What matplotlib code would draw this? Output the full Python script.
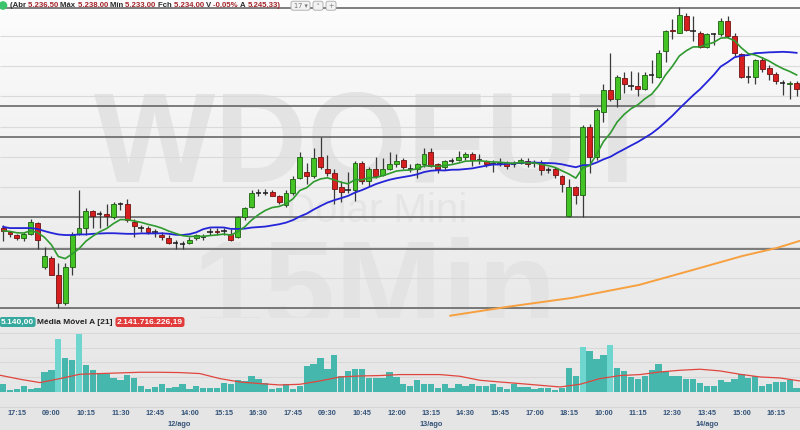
import matplotlib
matplotlib.use('Agg')
import matplotlib.pyplot as plt
import numpy as np
import pandas as pd
from matplotlib.patches import Rectangle, FancyBboxPatch, Circle
from matplotlib.colors import LinearSegmentedColormap
from matplotlib.transforms import blended_transform_factory

# ---------------- data ----------------
opens = [5186.5, 5185, 5184, 5183, 5184.5, 5188, 5173.5, 5176.5, 5171, 5161.5,
         5173.5, 5184.5, 5186.5, 5192, 5191, 5191, 5190, 5194.5, 5194.5, 5188.5,
         5186.5, 5186.5, 5185, 5184, 5183, 5181.5, 5181, 5181.5, 5183, 5183.5,
         5185, 5185.5, 5185.5, 5184.5, 5183.5, 5190, 5193.5, 5198, 5198, 5198.5,
         5197, 5194, 5198, 5203, 5205, 5203.5, 5210, 5206, 5204.5, 5200,
         5199, 5199, 5208, 5202, 5206, 5204, 5206, 5207.5, 5209, 5206,
         5206, 5207.5, 5211.5, 5207.5, 5206.5, 5208.5, 5209, 5210, 5211, 5209,
         5208.5, 5207.5, 5208, 5208, 5207.5, 5208, 5208.5, 5208, 5208, 5205.5,
         5206, 5203.5, 5190.5, 5200, 5197.5, 5220, 5210, 5225, 5232, 5229,
         5236, 5233.5, 5233.5, 5232.5, 5237, 5236.5, 5245, 5252, 5251, 5256.5,
         5251.5, 5251, 5246.5, 5250.5, 5250.5, 5255, 5250, 5244, 5236.5, 5236.5,
         5242, 5239.5, 5237.5, 5234.5, 5234, 5234.5]
highs = [5187.5, 5185.5, 5184.5, 5185, 5189.5, 5188.5, 5180, 5177, 5175, 5175,
         5185, 5199, 5193, 5192.5, 5192, 5194.5, 5195, 5195, 5196, 5189.5,
         5187.5, 5187, 5186, 5185, 5184, 5182.5, 5182, 5183.5, 5184.5, 5184.5,
         5186.5, 5186.5, 5186.5, 5186, 5190.5, 5193.5, 5199, 5199.5, 5199.5, 5199,
         5197.5, 5199, 5203.5, 5211.5, 5208, 5213, 5216.5, 5210.5, 5206, 5202,
         5205, 5208.5, 5208.5, 5206.5, 5210, 5209.5, 5211.5, 5211, 5209.5, 5207.5,
         5208, 5213, 5213, 5208, 5209, 5209.5, 5212, 5211.5, 5211.5, 5211,
         5209, 5209, 5209.5, 5208.5, 5208.5, 5209.5, 5209.5, 5209, 5209, 5206.5,
         5206.5, 5204, 5202.5, 5200.5, 5220.5, 5221, 5226, 5234, 5244.5, 5237,
         5238, 5238.5, 5238, 5238, 5242, 5245.5, 5252, 5255.5, 5259.5, 5257.5,
         5256.5, 5251.5, 5251, 5251, 5256, 5256.5, 5251, 5244.5, 5240, 5242.5,
         5243, 5240.5, 5238, 5235.5, 5235, 5235]
lows = [5182, 5183.5, 5182.5, 5182, 5184, 5179.5, 5173, 5171, 5160, 5161,
        5171, 5184, 5184, 5186.5, 5186.5, 5187, 5189.5, 5192.5, 5188.5, 5183.5,
        5185, 5184.5, 5183.5, 5182.5, 5181, 5179.5, 5179.5, 5181, 5182.5, 5182.5,
        5184, 5184, 5184, 5182, 5183, 5189, 5193, 5197, 5197.5, 5197,
        5194.5, 5193.5, 5197.5, 5202.5, 5201, 5203, 5206, 5203.5, 5194.5, 5195,
        5198, 5195.5, 5201, 5200.5, 5203, 5203.5, 5205.5, 5206.5, 5206, 5205,
        5203, 5206.5, 5206.5, 5204.5, 5205.5, 5208, 5208.5, 5209, 5207, 5207.5,
        5206.5, 5205, 5207, 5206, 5206.5, 5207.5, 5206.5, 5206.5, 5204, 5204.5,
        5203, 5198.5, 5190, 5194.5, 5190, 5204.5, 5209, 5221.5, 5228.5, 5226.5,
        5231, 5232, 5230, 5232, 5234.5, 5236, 5241.5, 5249, 5251, 5251.5,
        5248.5, 5246, 5246, 5247, 5250, 5249.5, 5243.5, 5236, 5234.5, 5234,
        5238, 5235.5, 5234, 5230.5, 5229, 5230]
closes = [5185.5, 5184.5, 5183, 5184.5, 5188.5, 5182.5, 5177, 5171, 5161.5, 5173.5,
          5184, 5186.5, 5192, 5190.5, 5191, 5190.5, 5194.5, 5194.5, 5189, 5187,
          5186.5, 5185, 5185, 5183.5, 5181.5, 5181.5, 5181, 5182.5, 5184, 5183.5,
          5185, 5185, 5185.5, 5182.5, 5190, 5193, 5198, 5198, 5198, 5197,
          5195, 5198, 5202.5, 5210, 5203.5, 5209.5, 5206.5, 5204.5, 5199.5, 5198.5,
          5199, 5208, 5202, 5206, 5203.5, 5206, 5207.5, 5208.5, 5206.5, 5206,
          5207.5, 5211, 5207, 5206, 5208.5, 5208.5, 5210, 5211, 5209, 5209,
          5207.5, 5207.5, 5208, 5207, 5207.5, 5209, 5207.5, 5208, 5205.5, 5205.5,
          5204, 5201, 5200, 5197.5, 5220, 5210, 5225.5, 5232, 5229, 5236.5,
          5234, 5233.5, 5232.5, 5237, 5237, 5244.5, 5251.5, 5251.5, 5257, 5252,
          5251.5, 5246.5, 5250.5, 5250.5, 5255, 5250, 5244.5, 5236.5, 5236.5, 5242,
          5239, 5237.5, 5235, 5234.5, 5234.5, 5232.5]
# 21-period average before enough candles are on screen
ma21_head = [5186.8, 5186.4, 5186.4, 5186.4, 5186.4, 5186.1, 5185.4, 5184.8, 5184.3, 5184.1,
             5184.1, 5184.3, 5184.3, 5184.5, 5184.6, 5184.7, 5184.7, 5184.6, 5184.5, 5184.5]
volumes = [1.63, 0.46, 0.65, 1.17, 0.53, 0.85, 3.84, 4.36, 10.41, 6.70,
           6.18, 11.38, 5.20, 4.23, 3.58, 3.45, 2.74, 2.28, 3.26, 2.80,
           1.11, 0.65, 0.98, 1.50, 0.85, 0.98, 1.63, 0.65, 1.17, 0.85,
           0.85, 0.85, 1.76, 1.50, 2.41, 2.15, 3.13, 2.61, 1.76, 0.65,
           0.85, 1.50, 0.53, 1.11, 5.01, 5.40, 6.64, 4.43, 7.22, 3.06,
           4.10, 4.56, 4.43, 2.74, 2.74, 2.80, 3.91, 2.93, 1.50, 1.11,
           2.28, 1.63, 1.63, 0.79, 1.50, 0.85, 1.50, 1.17, 1.63, 1.11,
           1.11, 1.63, 0.98, 0.59, 1.50, 0.98, 0.98, 0.59, 0.85, 0.85,
           0.46, 0.79, 4.69, 3.13, 8.78, 8.00, 6.38, 7.22, 9.17, 4.69,
           4.04, 2.93, 2.48, 3.06, 4.30, 5.53, 4.10, 3.13, 3.06, 2.61,
           2.61, 1.76, 1.24, 1.11, 2.41, 1.89, 2.61, 3.58, 2.74, 3.06,
           1.17, 1.63, 1.89, 1.89, 2.28, 0.85]
highlight_bars = [8, 11, 84, 88]

vol_ma_idx = [-0.45, 2.45, 5.35, 8.25, 11.1, 14.0, 16.9, 19.8, 22.7, 25.6, 28.5,
              31.4, 34.3, 37.2, 40.1, 43.0, 45.9, 48.8, 51.7, 54.6, 57.5, 60.4,
              63.3, 66.2, 69.1, 72.0, 74.9, 77.8, 80.7, 83.6, 86.5, 89.4, 92.3,
              95.2, 98.1, 101.0, 103.9, 106.8, 109.7, 112.6, 115.5]
vol_ma_val = [3.26, 2.48, 1.83, 2.61, 3.45, 3.59, 3.71, 3.84, 3.84, 3.78, 3.59,
              2.61, 1.95, 1.64, 1.37, 1.50, 2.15, 2.93, 3.12, 3.20, 3.39, 3.39,
              3.39, 3.06, 2.28, 1.95, 1.64, 1.31, 0.98, 1.50, 2.61, 3.20, 3.39,
              3.90, 4.23, 4.43, 4.10, 3.45, 2.93, 2.73, 2.15]

orange_idx = [64.8, 73.3, 82.5, 92.2, 99.9, 107.2, 112.1, 115.5]
orange_val = [5157.4, 5160.4, 5163.3, 5167.6, 5172.5, 5177.2, 5179.8, 5182.2]

grid_levels = [5160, 5170, 5180, 5190, 5200, 5210, 5220, 5230, 5240, 5250]
level_lines = [5259.3, 5226.8, 5216.6, 5190.2, 5179.6, 5160.0]

tick_pos = [2, 7, 12, 17, 22, 27, 32, 37, 42, 47, 52, 57, 62, 67, 72, 77, 82,
            87, 92, 97, 102, 107, 112]
tick_labels = ['17:15', '09:00', '10:15', '11:30', '12:45', '14:00', '15:15',
               '16:30', '17:45', '09:30', '10:45', '12:00', '13:15', '14:30',
               '15:45', '17:00', '18:15', '10:00', '11:15', '12:30', '13:45',
               '15:00', '16:15']
date_pos = [25.5, 62, 102]
date_labels = ['12/ago', '13/ago', '14/ago']

header_parts = [('(Abr ', 'k'), ('5.236,50 ', 'v'), ('Máx ', 'k'), ('5.238,00 ', 'v'),
                ('Mín ', 'k'), ('5.233,00 ', 'v'), ('Fch ', 'k'), ('5.234,00 ', 'v'),
                ('V ', 'k'), ('-0,05% ', 'v'), ('A ', 'k'), ('5.245,33)', 'v')]

# ---------------- figure ----------------
W, H = 800, 430
fig = plt.figure(figsize=(8, 4.3), dpi=100)
FONT = 'Liberation Sans'

bg = fig.add_axes([0, 0, 1, 1], zorder=-5)
grad = np.linspace(0, 1, 430)[:, None]
cmap = LinearSegmentedColormap.from_list('bg', ['#fdfdfd', '#f2f2f2', '#ebebeb', '#e5e5e5'])
bg.imshow(grad, aspect='auto', cmap=cmap, extent=[0, 1, 0, 1])
bg.axis('off')

n = len(closes)
xlim = (-0.45, 115.49)
ax = fig.add_axes([0, 112 / H, 1, 318 / H], zorder=1)
ax.set_facecolor('none')
ax.set_xlim(*xlim)
ax.set_ylim(5156.63, 5261.92)
ax.axis('off')

# watermark
wm = '#e3e3e3'
ax.text(0.47, 0.4277, 'WDOFUT', transform=ax.transAxes, ha='center', va='baseline',
        fontsize=92.5, fontweight='bold', family=FONT, color=wm, zorder=0.5, clip_on=True)
ax.text(0.471, 0.3019, 'Dolar Mini', transform=ax.transAxes, ha='center', va='baseline',
        fontsize=29, family=FONT, color='#e5e5e5', zorder=0.5, clip_on=True)
ax.text(0.469, -0.0377, '15Min', transform=ax.transAxes, ha='center', va='baseline',
        fontsize=92.5, fontweight='bold', family=FONT, color=wm, zorder=0.5, clip_on=True)

ax.hlines(grid_levels, xlim[0], xlim[1], color='#dadada', lw=0.8, zorder=1)
ax.hlines(level_lines, xlim[0], xlim[1], color='#5c5c5c', lw=1.1, zorder=2)

for i, (o, h, l, c) in enumerate(zip(opens, highs, lows, closes)):
    ax.vlines(i, l, h, color='#3a3a3a', lw=0.9, zorder=3)
    if c == o:
        ax.hlines(o, i - 0.38, i + 0.38, color='#1a1a1a', lw=1.1, zorder=4)
    else:
        if c > o:
            fc, ec = '#44c324', '#1f5f14'
        else:
            fc, ec = '#d81f1f', '#6e1212'
        ax.add_patch(Rectangle((i - 0.36, min(o, c)), 0.72, abs(c - o), fc=fc, ec=ec,
                               lw=0.6, zorder=4))

idx = np.arange(n)
s = pd.Series(closes, dtype=float)
ema9 = s.ewm(span=9, adjust=False).mean()
sma21 = s.rolling(21).mean()
sma21.iloc[:len(ma21_head)] = ma21_head
ax.plot(idx, sma21, color='#2424d8', lw=1.3, zorder=5)
ax.plot(idx, ema9, color='#2f9a2f', lw=1.2, zorder=6)
ax.plot(orange_idx, orange_val, color='#f7a040', lw=1.4, zorder=5)

# volume panel
axv = fig.add_axes([0, 38 / H, 1, 74 / H], zorder=1)
axv.set_facecolor('none')
axv.set_xlim(*xlim)
vtop = 14.4
axv.set_ylim(0, vtop)
axv.axis('off')
axv.hlines(np.linspace(0, vtop, 6)[:-1], xlim[0], xlim[1], color='#d8d8d8', lw=0.8, zorder=1)
cols = ['#6fd6cf' if i in highlight_bars else '#45b7ad' for i in range(n)]
axv.bar(idx, volumes, width=0.92, color=cols, linewidth=0, zorder=2)
axv.plot(vol_ma_idx, vol_ma_val, color='#e0463e', lw=0.9, zorder=3)

# overlay in pixel coordinates
ov = fig.add_axes([0, 0, 1, 1], zorder=10)
ov.set_facecolor('none')
ov.set_xlim(0, W)
ov.set_ylim(H, 0)
ov.axis('off')
ov.hlines([406.7], 0, W, color='#d6d6d6', lw=0.8)

ov.add_patch(Circle((3, 5.5), 3.6, color='#3cc46c', zorder=2))
renderer = fig.canvas.get_renderer()
x = 10
for txt, kind in header_parts:
    t = ov.text(x, 5.8, txt, color='#2a2a2a' if kind == 'k' else '#a3262a', fontsize=5.55,
                fontweight='bold', family=FONT, ha='left', va='center')
    bb = t.get_window_extent(renderer)
    x += bb.width
for bx, bw, lab in [(291, 19, '17 ▾'), (313, 10, 'ˢ'), (326, 10, '+')]:
    ov.add_patch(FancyBboxPatch((bx, 1.2), bw, 9, boxstyle='round,pad=0,rounding_size=2',
                                fc='#f3f3f3', ec='#a8a8a8', lw=0.6))
    ov.text(bx + bw / 2, 5.9, lab, fontsize=4.8, color='#777777', ha='center', va='center',
            family='DejaVu Sans')

ov.text(1, 322, '5.140,00', color='white', fontsize=6, fontweight='bold', family=FONT,
        ha='left', va='center',
        bbox=dict(boxstyle='round,pad=0.18,rounding_size=0.3', fc='#36a89e', ec='none'))
ov.text(37, 322, 'Média Móvel A [21]', color='#222222', fontsize=6, fontweight='bold',
        family=FONT, ha='left', va='center')
ov.text(117, 322, '2.141.716.226,19', color='white', fontsize=6, fontweight='bold',
        family=FONT, ha='left', va='center',
        bbox=dict(boxstyle='round,pad=0.18,rounding_size=0.3', fc='#e03a3a', ec='none'))

tr = blended_transform_factory(axv.transData, ov.transData)
for p, lab in zip(tick_pos, tick_labels):
    ov.text(p, 413.5, lab, transform=tr, color='#355479', fontsize=5.3, fontweight='bold',
            family=FONT, ha='center', va='center')
for p, lab in zip(date_pos, date_labels):
    ov.text(p, 424.5, lab, transform=tr, color='#355479', fontsize=5.3, fontweight='bold',
            family=FONT, ha='center', va='center')

fig.savefig('out.png', dpi=100)
